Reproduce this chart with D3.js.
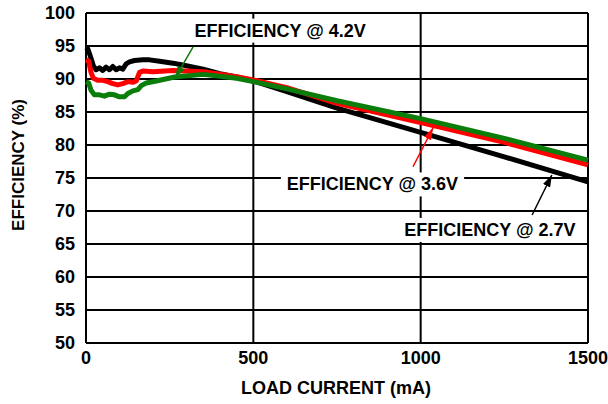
<!DOCTYPE html>
<html>
<head>
<meta charset="utf-8">
<script src="https://cdn.jsdelivr.net/npm/d3@7"></script>
<style>
  body { margin: 0; background: #fff; }
  svg text { font-family: "Liberation Sans", Arial, sans-serif; font-weight: bold; fill: #000; }
</style>
</head>
<body>
<div id="chart"></div>
<script>
const width = 608;
const height = 404;

// load current (mA) vs efficiency (%)
const eff27 = [
  [0, 94.8], [5, 94.6], [12, 93.6], [22, 92.0], [30, 91.4], [40, 91.7], [50, 91.3],
  [60, 91.8], [70, 91.4], [80, 91.9], [90, 91.4], [100, 91.7], [110, 91.5], [120, 92.3],
  [130, 92.6], [145, 92.8], [170, 92.9], [190, 92.9], [220, 92.7], [260, 92.4],
  [300, 92.0], [350, 91.5], [400, 90.8], [450, 90.3], [500, 89.7], [600, 88.1],
  [750, 85.6], [1000, 81.9], [1250, 78.2], [1500, 74.4]
];
const eff36 = [
  [0, 92.9], [8, 92.7], [15, 91.0], [22, 90.1], [35, 89.8], [50, 89.8], [65, 89.6],
  [80, 89.3], [95, 89.1], [110, 89.3], [125, 89.6], [140, 89.5], [150, 89.7],
  [160, 91.0], [170, 91.2], [200, 91.1], [260, 91.3], [350, 91.1], [450, 90.35],
  [500, 89.85], [600, 88.7], [750, 86.3], [1000, 83.4], [1250, 80.4], [1500, 77.0]
];
const eff42 = [
  [0, 89.6], [8, 89.4], [15, 88.3], [25, 87.6], [40, 87.6], [55, 87.4], [70, 87.7],
  [85, 87.6], [100, 87.3], [115, 87.3], [125, 87.8], [140, 88.2], [155, 88.4],
  [165, 89.0], [180, 89.4], [210, 89.7], [265, 90.3], [350, 90.7], [450, 90.1],
  [500, 89.6], [600, 88.5], [750, 86.7], [1000, 84.0], [1250, 81.0], [1500, 77.7]
];

const xTicks = [0, 500, 1000, 1500];
const yTicks = [50, 55, 60, 65, 70, 75, 80, 85, 90, 95, 100];

// label position, arrow tail, arrow head (data units)
const labels = [
  { text: 'EFFICIENCY @ 4.2V', color: '#0a7d0a', at: [580, 97.4], tail: [320, 94.85], head: [266, 90.15] },
  { text: 'EFFICIENCY @ 3.6V', color: '#ff0000', at: [856, 74.1], tail: [977, 76.7], head: [1037, 82.6] },
  { text: 'EFFICIENCY @ 2.7V', color: '#000000', at: [1207, 67.2], tail: [1333, 69.4], head: [1392, 75.45] }
];

const series = [
  { data: eff27, color: '#000000' },
  { data: eff36, color: '#ff0000' },
  { data: eff42, color: '#0a7d0a' }
];

const x = d3.scaleLinear().domain([0, 1500]).range([86, 588]);
const y = d3.scaleLinear().domain([50, 100]).range([343, 13]);

const svg = d3.select('#chart').append('svg')
  .attr('width', width)
  .attr('height', height);

const defs = svg.append('defs');
labels.forEach((d, i) => {
  defs.append('marker')
    .attr('id', 'arrow' + i)
    .attr('viewBox', '0 0 12 8')
    .attr('refX', 12)
    .attr('refY', 4)
    .attr('markerWidth', 12)
    .attr('markerHeight', 8)
    .attr('markerUnits', 'userSpaceOnUse')
    .attr('orient', 'auto')
    .append('path')
    .attr('d', 'M0,0L12,4L0,8Z')
    .attr('fill', d.color);
});

// grid
const grid = svg.append('g').attr('stroke', '#000').attr('stroke-width', 2);
grid.selectAll('.hgrid')
  .data(yTicks)
  .enter()
  .append('line')
  .attr('x1', x(0)).attr('x2', x(1500))
  .attr('y1', d => y(d)).attr('y2', d => y(d));
grid.selectAll('.vgrid')
  .data(xTicks)
  .enter()
  .append('line')
  .attr('y1', y(50)).attr('y2', y(100))
  .attr('x1', d => x(d)).attr('x2', d => x(d));

// tick labels
svg.append('g')
  .selectAll('text')
  .data(yTicks)
  .enter()
  .append('text')
  .attr('x', 75)
  .attr('y', d => y(d))
  .attr('dy', '0.36em')
  .attr('text-anchor', 'end')
  .attr('font-size', 18)
  .text(d => d);

svg.append('g')
  .selectAll('text')
  .data(xTicks)
  .enter()
  .append('text')
  .attr('x', d => x(d))
  .attr('y', 364)
  .attr('text-anchor', 'middle')
  .attr('font-size', 18)
  .text(d => d);

svg.append('text')
  .attr('x', 336)
  .attr('y', 394)
  .attr('text-anchor', 'middle')
  .attr('font-size', 18)
  .text('LOAD CURRENT (mA)');

svg.append('text')
  .attr('transform', 'translate(24,165) rotate(-90)')
  .attr('text-anchor', 'middle')
  .attr('font-size', 17)
  .text('EFFICIENCY (%)');

// curves
const line = d3.line()
  .x(d => x(d[0]))
  .y(d => y(d[1]));

svg.append('g')
  .selectAll('path')
  .data(series)
  .enter()
  .append('path')
  .attr('fill', 'none')
  .attr('stroke', d => d.color)
  .attr('stroke-width', 5)
  .attr('stroke-linejoin', 'round')
  .attr('d', d => line(d.data));

// annotations
const ann = svg.append('g');
labels.forEach((d, i) => {
  const g = ann.append('g');
  const t = g.append('text')
    .attr('x', x(d.at[0]))
    .attr('y', y(d.at[1]))
    .attr('dy', '0.36em')
    .attr('text-anchor', 'middle')
    .attr('font-size', 18)
    .text(d.text);
  const bb = t.node().getBBox();
  g.insert('rect', 'text')
    .attr('x', bb.x - 6)
    .attr('y', bb.y - 2)
    .attr('width', bb.width + 12)
    .attr('height', bb.height + 4)
    .attr('fill', '#fff');
  g.append('line')
    .attr('x1', x(d.tail[0])).attr('y1', y(d.tail[1]))
    .attr('x2', x(d.head[0])).attr('y2', y(d.head[1]))
    .attr('stroke', d.color)
    .attr('stroke-width', 1.5)
    .attr('marker-end', `url(#arrow${i})`);
});
</script>
</body>
</html>
